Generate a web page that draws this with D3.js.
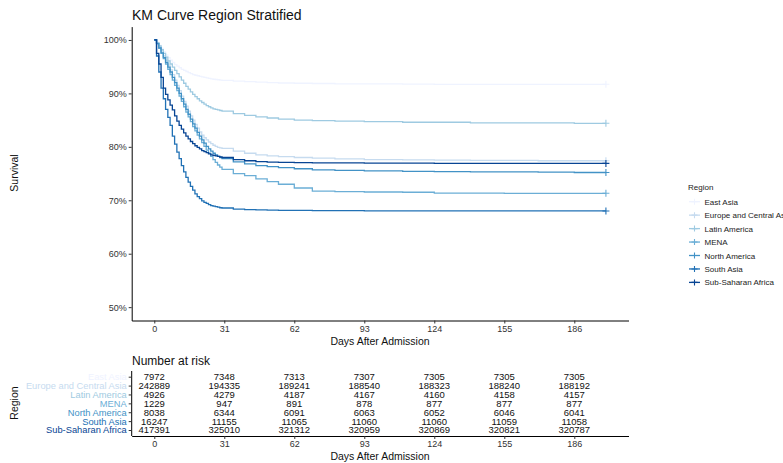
<!DOCTYPE html>
<html><head><meta charset="utf-8">
<script src="https://cdn.jsdelivr.net/npm/d3@7"></script>
<style>body{margin:0;background:#fff}svg{display:block}text{font-family:"Liberation Sans",Arial,sans-serif}</style>
</head><body><svg id="c" width="783" height="463"></svg>
<script>
const regions = ["East Asia","Europe and Central Asia","Latin America","MENA","North America","South Asia","Sub-Saharan Africa"];
const colors = ["#EFF3FF","#C6DBEF","#9ECAE1","#6BAED6","#4292C6","#2171B5","#084594"];
const days = [0,1,2,3,4,5,6,7,8,9,10,11,12,13,14,15,16,17,18,19,20,21,22,23,24,25,26,27,28,29,30,35,40,45,50,55,62,70,80,93,110,124,140,155,170,186,200];
const eastAsia = [100,99.6,99,98.4,97.8,97.2,96.7,96.2,95.8,95.4,95.1,94.8,94.5,94.3,94.1,93.9,93.7,93.5,93.4,93.3,93.2,93.1,93.0,92.9,92.8,92.7,92.65,92.6,92.55,92.5,92.45,92.3,92.2,92.1,92.0,91.95,91.9,91.85,91.8,91.8,91.75,91.7,91.7,91.7,91.7,91.7,91.7];
const europeCA = [100,99.5,98.8,98,97,96.2,95.3,94.4,93.5,92.5,91.5,90.5,89.5,88.5,87.6,86.7,85.8,85,84.2,83.5,82.8,82.2,81.7,81.3,80.9,80.6,80.3,80.1,79.9,79.8,79.7,79.2,78.8,78.5,78.3,78.15,78.0,77.9,77.75,77.6,77.55,77.5,77.45,77.45,77.4,77.4,77.4];
const latinAmerica = [100,99.5,98.9,98.2,97.5,96.8,96.1,95.5,94.9,94.3,93.7,93.1,92.5,91.9,91.3,90.8,90.3,89.8,89.4,89.0,88.6,88.3,88.0,87.7,87.5,87.3,87.1,87.0,86.9,86.8,86.7,86.2,85.9,85.6,85.4,85.2,85.0,84.9,84.8,84.7,84.6,84.6,84.5,84.5,84.5,84.4,84.4];
const mena = [100,99.3,98.5,97.5,96.5,95.5,94.5,93.5,92.5,91.5,90.5,89.5,88.5,87.5,86.5,85.6,84.7,83.8,83,82.2,81.5,80.8,80.1,79.4,78.8,78.2,77.6,77.1,76.6,76.2,75.8,75.0,74.6,74.0,73.5,73.0,72.3,71.7,71.6,71.55,71.5,71.35,71.35,71.3,71.3,71.3,71.3];
const northAmerica = [100,99.3,98.5,97.6,96.7,95.8,94.9,94,93,92,91,90,89,88,87,86.1,85.2,84.3,83.5,82.7,82,81.3,80.7,80.1,79.6,79.2,78.8,78.5,78.2,78.0,77.8,77.2,76.8,76.5,76.3,76.1,75.9,75.7,75.6,75.5,75.4,75.35,75.3,75.3,75.25,75.2,75.2];
const southAsia = [100,97,94,91,89,87,85.5,84,82,80.5,79,77.8,76.5,75.3,74.3,73.4,72.6,71.9,71.2,70.7,70.3,69.9,69.6,69.4,69.2,69.0,68.9,68.8,68.7,68.6,68.55,68.35,68.25,68.2,68.15,68.1,68.1,68.05,68.05,68.0,68.0,68.0,68.0,68.0,68.0,68.0,68.0];
const subSaharan = [100,97.5,95.5,93,91,89.8,88.8,87.8,86.9,85.8,84.8,84,83.3,82.6,82,81.5,81,80.6,80.2,79.9,79.6,79.3,79.1,78.9,78.7,78.5,78.4,78.3,78.2,78.1,78.0,77.6,77.4,77.25,77.15,77.1,77.05,77.0,77.0,76.95,76.95,76.9,76.9,76.9,76.9,76.9,76.9];
const survival = [eastAsia, europeCA, latinAmerica, mena, northAmerica, southAsia, subSaharan];
const riskTimes = [0,31,62,93,124,155,186];
const atRisk = [
  [7972,7348,7313,7307,7305,7305,7305],
  [242889,194335,189241,188540,188323,188240,188192],
  [4926,4279,4187,4167,4160,4158,4157],
  [1229,947,891,878,877,877,877],
  [8038,6344,6091,6063,6052,6046,6041],
  [16247,11155,11065,11060,11060,11059,11058],
  [417391,325010,321312,320959,320869,320821,320787]
];
const yTicks = [0.5,0.6,0.7,0.8,0.9,1.0];
const maxDay = 200;

const svg = d3.select("#c");
const x = d3.scaleLinear().domain([-10, 210]).range([131.7, 628.5]);
const y = d3.scaleLinear().domain([0.475, 1.025]).range([320.5, 26.6]);

// title
svg.append("text").attr("x", 132).attr("y", 20).attr("font-size", 14).attr("fill", "#111").text("KM Curve Region Stratified");

// curves
const line = d3.line().x(d => x(d[0])).y(d => y(d[1] / 100)).curve(d3.curveStepAfter);
survival.forEach((vals, i) => {
  const pts = days.map((d, j) => [d, vals[j]]);
  svg.append("path").attr("d", line(pts)).attr("fill", "none").attr("stroke", colors[i]).attr("stroke-width", 1.3);
  const last = pts[pts.length - 1];
  const cx = x(last[0]), cy = y(last[1] / 100);
  svg.append("path").attr("d", `M${cx-3.5},${cy}H${cx+3.5}M${cx},${cy-3.5}V${cy+3.5}`).attr("stroke", colors[i]).attr("stroke-width", 1.1);
});

// axes
function styleAxis(g) {
  g.select(".domain").attr("stroke", "#000").attr("stroke-width", 1);
  g.selectAll(".tick line").attr("stroke", "#333");
  g.selectAll(".tick text").attr("fill", "#333").attr("font-size", 9).attr("font-family", '"Liberation Sans",Arial,sans-serif');
}
svg.append("g").attr("transform", "translate(131.7,0)")
  .call(d3.axisLeft(y).tickValues(yTicks).tickFormat(d3.format(".0%")).tickSize(3).tickSizeOuter(0).tickPadding(2))
  .call(styleAxis);
svg.append("g").attr("transform", "translate(0,320.5)")
  .call(d3.axisBottom(x).tickValues(riskTimes).tickSize(3).tickSizeOuter(0).tickPadding(2))
  .call(styleAxis);
svg.append("text").attr("transform", "translate(18,173) rotate(-90)").attr("text-anchor", "middle").attr("font-size", 10.5).attr("fill", "#111").text("Survival");
svg.append("text").attr("x", 380).attr("y", 345).attr("text-anchor", "middle").attr("font-size", 10.5).attr("fill", "#111").text("Days After Admission");

// legend
const lg = svg.append("g");
lg.append("text").attr("x", 688).attr("y", 190).attr("font-size", 8).attr("fill", "#222").text("Region");
regions.forEach((r, i) => {
  const ly = 201.7 + i * 13.45;
  lg.append("line").attr("x1", 689).attr("x2", 700).attr("y1", ly).attr("y2", ly).attr("stroke", colors[i]).attr("stroke-width", 1.3);
  lg.append("path").attr("d", `M${691.5},${ly}H${697.5}M${694.5},${ly-3}V${ly+3}`).attr("stroke", colors[i]).attr("stroke-width", 1.1);
  lg.append("text").attr("x", 704.5).attr("y", ly + 3).attr("font-size", 8).attr("fill", "#222").text(r);
});

// risk table
svg.append("text").attr("x", 132).attr("y", 365).attr("font-size", 12).attr("fill", "#111").text("Number at risk");
const yr = d3.scalePoint().domain(regions).range([376.7, 430]);
const tg = svg.append("g").attr("transform", "translate(131.7,0)")
  .call(d3.axisLeft(yr).tickSize(3).tickPadding(2));
tg.select(".domain").attr("d", "M0,371V436").attr("stroke", "#000");
tg.selectAll(".tick line").attr("stroke", "#333");
tg.selectAll(".tick text").attr("font-size", 9.3).attr("font-family", '"Liberation Sans",Arial,sans-serif').attr("fill", (d, i) => colors[i]);
svg.append("g").attr("transform", "translate(0,436)")
  .call(d3.axisBottom(x).tickValues(riskTimes).tickSize(3).tickSizeOuter(0).tickPadding(2))
  .call(styleAxis);
atRisk.forEach((row, i) => {
  row.forEach((v, j) => {
    svg.append("text").attr("x", x(riskTimes[j])).attr("y", yr(regions[i]) + 3.4).attr("text-anchor", "middle").attr("font-size", 9.5).attr("fill", "#111").text(v);
  });
});
svg.append("text").attr("transform", "translate(18,403) rotate(-90)").attr("text-anchor", "middle").attr("font-size", 10.5).attr("fill", "#111").text("Region");
svg.append("text").attr("x", 380).attr("y", 460).attr("text-anchor", "middle").attr("font-size", 10.5).attr("fill", "#111").text("Days After Admission");
</script></body></html>
